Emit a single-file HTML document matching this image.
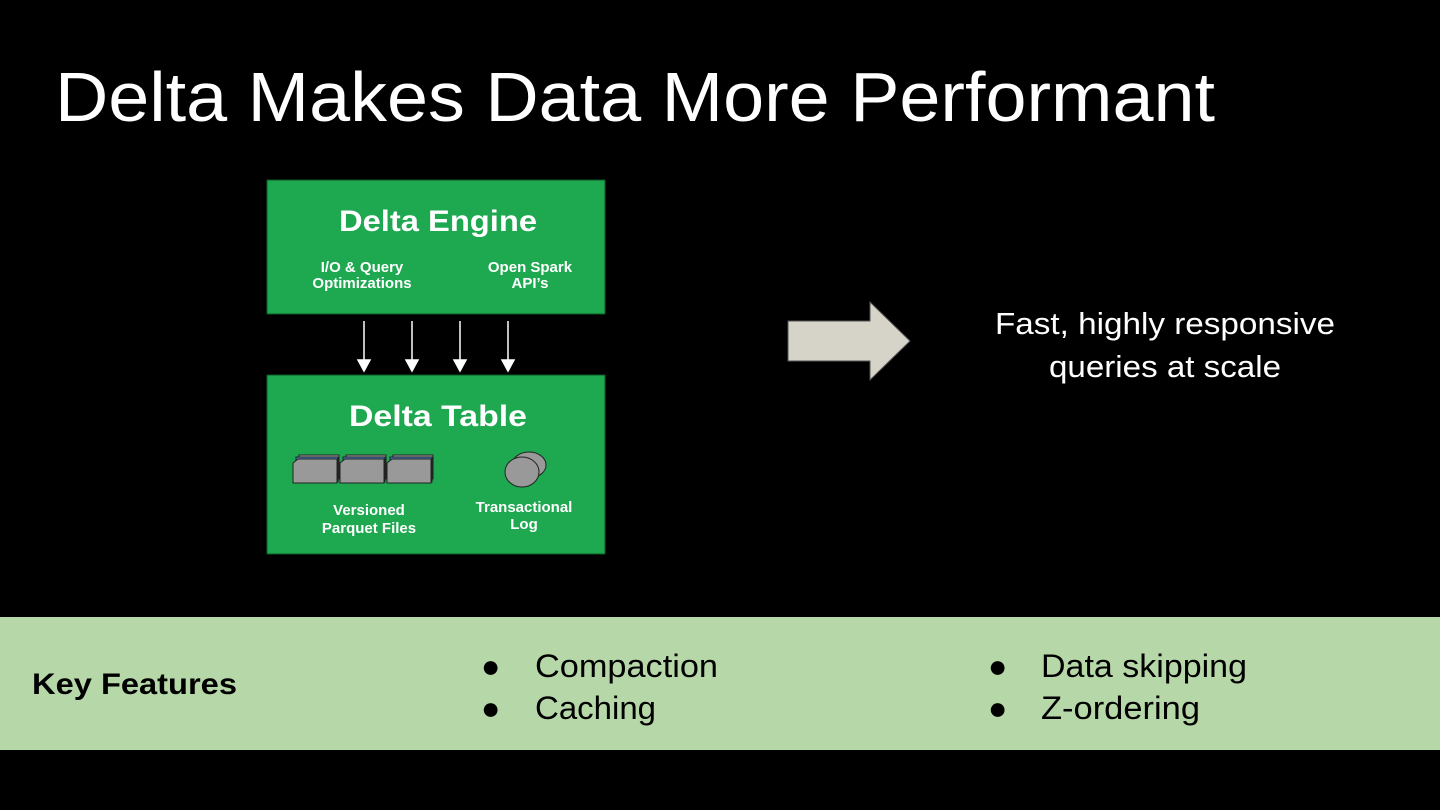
<!DOCTYPE html>
<html><head><style>
body{margin:0;background:#000;width:1440px;height:810px;overflow:hidden}
svg{display:block}
</style></head><body>
<svg width="1440" height="810" xmlns="http://www.w3.org/2000/svg">
<rect width="1440" height="810" fill="#000"/>
<text x="55" y="121" font-family="Liberation Sans, sans-serif" font-size="70" fill="#fff" textLength="1160" lengthAdjust="spacingAndGlyphs">Delta Makes Data More Performant</text>
<rect x="267" y="180" width="338" height="134" fill="#1ea850" stroke="#0c5a28" stroke-width="1"/>
<text x="438" y="231" text-anchor="middle" font-family="Liberation Sans, sans-serif" font-weight="bold" font-size="30" fill="#fff" textLength="198" lengthAdjust="spacingAndGlyphs">Delta Engine</text>
<g stroke="#fff" stroke-width="1.5" fill="#fff">
<line x1="364" y1="321" x2="364" y2="362"/><polygon points="358,360 370,360 364,371"/>
<line x1="412" y1="321" x2="412" y2="362"/><polygon points="406,360 418,360 412,371"/>
<line x1="460" y1="321" x2="460" y2="362"/><polygon points="454,360 466,360 460,371"/>
<line x1="508" y1="321" x2="508" y2="362"/><polygon points="502,360 514,360 508,371"/>
</g>
<rect x="267" y="375" width="338" height="179" fill="#1ea850" stroke="#0c5a28" stroke-width="1"/>
<text x="438" y="426" text-anchor="middle" font-family="Liberation Sans, sans-serif" font-weight="bold" font-size="30" fill="#fff" textLength="178" lengthAdjust="spacingAndGlyphs">Delta Table</text>
<g font-family="Liberation Sans, sans-serif" font-weight="bold" font-size="15" fill="#fff" text-anchor="middle">
<text x="362" y="272">I/O &amp; Query</text><text x="362" y="288">Optimizations</text>
<text x="530" y="272">Open Spark</text><text x="530" y="288">API’s</text>
<text x="369" y="515">Versioned</text><text x="369" y="533">Parquet Files</text>
<text x="524" y="512">Transactional</text><text x="524" y="529">Log</text>
</g>
<g stroke="#222" stroke-width="1">
<g transform="translate(293,455)"><rect x="6" y="0" width="40" height="24" fill="#aaa"/><rect x="3" y="2" width="42" height="25" fill="#4a7fc0"/><polygon points="0,8 5,4 44,4 44,28 0,28" fill="#999"/></g>
<g transform="translate(340,455)"><rect x="6" y="0" width="40" height="24" fill="#aaa"/><rect x="3" y="2" width="42" height="25" fill="#4a7fc0"/><polygon points="0,8 5,4 44,4 44,28 0,28" fill="#999"/></g>
<g transform="translate(387,455)"><rect x="6" y="0" width="40" height="24" fill="#aaa"/><rect x="3" y="2" width="42" height="25" fill="#4a7fc0"/><polygon points="0,8 5,4 44,4 44,28 0,28" fill="#999"/></g>
<ellipse cx="529" cy="465" rx="17" ry="13" fill="#999"/>
<ellipse cx="522" cy="472" rx="17" ry="15" fill="#999"/>
</g>
<polygon points="788,321 870,321 870,302 910,341 870,380 870,361 788,361" fill="#d6d3c8" stroke="#555" stroke-width="1"/>
<g font-family="Liberation Sans, sans-serif" font-size="31" fill="#fff" text-anchor="middle">
<text x="1165" y="334" textLength="340" lengthAdjust="spacingAndGlyphs">Fast, highly responsive</text>
<text x="1165" y="377" textLength="232" lengthAdjust="spacingAndGlyphs">queries at scale</text>
</g>
<rect x="0" y="617" width="1440" height="133" fill="#b6d7a8"/>
<g font-family="Liberation Sans, sans-serif" fill="#000">
<text x="32" y="694" font-size="30" font-weight="bold" textLength="205" lengthAdjust="spacingAndGlyphs">Key Features</text>
<g font-size="32">
<text x="481" y="677">●</text><text x="535" y="677" textLength="183" lengthAdjust="spacingAndGlyphs">Compaction</text>
<text x="481" y="719">●</text><text x="535" y="719" textLength="121" lengthAdjust="spacingAndGlyphs">Caching</text>
<text x="988" y="677">●</text><text x="1041" y="677" textLength="206" lengthAdjust="spacingAndGlyphs">Data skipping</text>
<text x="988" y="719">●</text><text x="1041" y="719" textLength="159" lengthAdjust="spacingAndGlyphs">Z-ordering</text>
</g></g>
</svg>
</body></html>
